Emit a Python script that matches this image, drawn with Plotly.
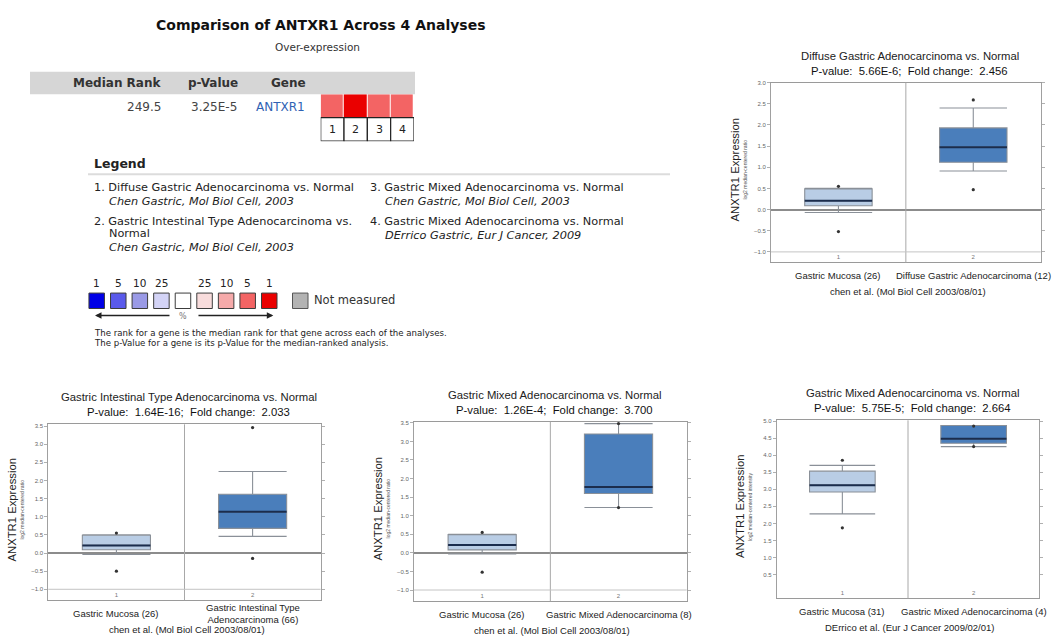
import plotly.graph_objects as go

W, H = 1053, 636


def px(x):
    return x / W


def py(y):
    return 1 - y / H


UI_FONT = "DejaVu Sans"
PLOT_FONT = "Liberation Sans"
GAP = "\u00a0\u00a0"

# ---------------- summary table ----------------
report_title = "Comparison of ANTXR1 Across 4 Analyses"
report_subtitle = "Over-expression"
table_headers = ["Median Rank", "p-Value", "Gene"]
median_rank = "249.5"
table_p_value = "3.25E-5"
gene_name = "ANTXR1"
analysis_ids = [1, 2, 3, 4]
# percentile bin of the gene in each analysis (index into scale_colors)
analysis_bins = [7, 8, 7, 7]

# ---------------- legend ----------------
legend_titles = [
    ["1. Diffuse Gastric Adenocarcinoma vs. Normal"],
    ["2. Gastric Intestinal Type Adenocarcinoma vs.", "Normal"],
    ["3. Gastric Mixed Adenocarcinoma vs. Normal"],
    ["4. Gastric Mixed Adenocarcinoma vs. Normal"],
]
legend_refs = [
    "Chen Gastric, Mol Biol Cell, 2003",
    "Chen Gastric, Mol Biol Cell, 2003",
    "Chen Gastric, Mol Biol Cell, 2003",
    "DErrico Gastric, Eur J Cancer, 2009",
]
scale_labels = ["1", "5", "10", "25", "", "25", "10", "5", "1"]
scale_colors = ["#0000e6", "#5a5aeb", "#9a9ae6", "#d3d3f6", "#ffffff",
                "#f8dcdc", "#f5aaaa", "#f36464", "#ea0000"]
not_measured_color = "#b3b3b3"
footnotes = [
    "The rank for a gene is the median rank for that gene across each of the analyses.",
    "The p-Value for a gene is its p-Value for the median-ranked analysis.",
]

# ---------------- box plot panels ----------------
chart_titles = [
    "Diffuse Gastric Adenocarcinoma vs. Normal",
    "Gastric Intestinal Type Adenocarcinoma vs. Normal",
    "Gastric Mixed Adenocarcinoma vs. Normal",
    "Gastric Mixed Adenocarcinoma vs. Normal",
]
chart_pvalues = ["5.66E-6", "1.64E-16", "1.26E-4", "5.75E-5"]
chart_folds = ["2.456", "2.033", "3.700", "2.664"]
normal_labels = ["Gastric Mucosa (26)", "Gastric Mucosa (26)",
                 "Gastric Mucosa (26)", "Gastric Mucosa (31)"]
tumor_labels = ["Diffuse Gastric Adenocarcinoma (12)",
                "Gastric Intestinal Type<br>Adenocarcinoma (66)",
                "Gastric Mixed Adenocarcinoma (8)",
                "Gastric Mixed Adenocarcinoma (4)"]
citations = ["chen et al. (Mol Biol Cell 2003/08/01)",
             "chen et al. (Mol Biol Cell 2003/08/01)",
             "chen et al. (Mol Biol Cell 2003/08/01)",
             "DErrico et al. (Eur J Cancer 2009/02/01)"]
y_title = "ANXTR1 Expression"
y_units = ["log2 median-centered ratio", "log2 median-centered ratio",
           "log2 median-centered ratio", "log2 median-centered intensity"]
y_ranges = [[-1.25, 3.0], [-1.3, 3.55], [-1.3, 3.53], [-0.2, 5.02]]

normal_q1 = [0.09, 0.09, 0.08, 2.92]
normal_median = [0.21, 0.21, 0.21, 3.12]
normal_q3 = [0.49, 0.49, 0.49, 3.53]
normal_low = [-0.07, -0.04, -0.03, 2.28]
normal_high = [0.50, 0.50, 0.50, 3.70]
normal_min = [-0.52, -0.50, -0.52, 1.87]
normal_max = [0.55, 0.55, 0.55, 3.85]

tumor_q1 = [1.12, 0.68, 1.60, 4.35]
tumor_median = [1.47, 1.14, 1.77, 4.48]
tumor_q3 = [1.93, 1.62, 3.20, 4.87]
tumor_low = [0.91, 0.46, 1.22, 4.25]
tumor_high = [2.40, 2.25, 3.48, 4.87]
tumor_min = [0.47, -0.15, 1.22, 4.25]
tumor_max = [2.59, 3.46, 3.48, 4.85]

# panel plot areas in page pixels: left, right, top, bottom
panel_px = [
    (771.0, 1040.7, 80.0, 260.7),
    (48.3, 320.7, 423.3, 600.0),
    (414.0, 686.7, 420.7, 601.0),
    (776.7, 1039.3, 419.3, 598.3),
]

BOX_W = 0.5
NORMAL_FILL = "#b9cde5"
TUMOR_FILL = "#4a7ebb"
BOX_EDGE = "#8a9098"
MEDIAN_COLOR = "#1b2d4d"

fig = go.Figure()
layout_axes = {}
shapes = []
annotations = []


def note(text, x, y, size, color="#222", family=UI_FONT, xanchor="center",
         yanchor="middle", xref="paper", yref="paper", textangle=0):
    annotations.append(dict(
        text=text, x=x, y=y, xref=xref, yref=yref, xanchor=xanchor,
        yanchor=yanchor, showarrow=False, textangle=textangle,
        font=dict(family=family, size=size, color=color)))


# ---------------- box plot panels ----------------
for i in range(4):
    n = i + 1
    s = "" if n == 1 else str(n)
    xr, yr = "x" + s, "y" + s
    l, r, t, b = panel_px[i]

    groups = [
        (1, normal_q1[i], normal_median[i], normal_q3[i], normal_low[i],
         normal_high[i], normal_min[i], normal_max[i], NORMAL_FILL),
        (2, tumor_q1[i], tumor_median[i], tumor_q3[i], tumor_low[i],
         tumor_high[i], tumor_min[i], tumor_max[i], TUMOR_FILL),
    ]
    for cx, q1, med, q3, lo, hi, mn, mx, fill in groups:
        fig.add_trace(go.Box(
            x=[cx], q1=[q1], median=[med], q3=[q3], lowerfence=[lo],
            upperfence=[hi], width=BOX_W, orientation="v", fillcolor=fill,
            line=dict(color=BOX_EDGE, width=1.1), whiskerwidth=1,
            boxpoints=False, hoverinfo="skip", xaxis=xr, yaxis=yr))
        fig.add_trace(go.Scatter(
            x=[cx - BOX_W / 2, cx + BOX_W / 2], y=[med, med], mode="lines",
            line=dict(color=MEDIAN_COLOR, width=2), hoverinfo="skip",
            xaxis=xr, yaxis=yr))
        fig.add_trace(go.Scatter(
            x=[cx, cx], y=[mn, mx], mode="markers",
            marker=dict(size=3.2, color="#333333"), hoverinfo="skip",
            xaxis=xr, yaxis=yr))

    layout_axes["xaxis" + s] = dict(
        domain=[px(l), px(r)], range=[0.5, 2.5], anchor=yr,
        tickvals=[1, 2], ticktext=["1", "2"], ticks="",
        ticklabelposition="inside",
        tickfont=dict(family=PLOT_FONT, size=6, color="#777"),
        showline=True, linecolor="#9a9a9a", linewidth=1, mirror=True,
        showgrid=False, zeroline=False, fixedrange=True)
    layout_axes["yaxis" + s] = dict(
        domain=[py(b), py(t)], range=y_ranges[i], anchor=xr,
        dtick=0.5, tick0=0, tickformat=".1f", ticks="outside", ticklen=3,
        tickcolor="#b0b0b0",
        tickfont=dict(family=PLOT_FONT, size=6, color="#666"),
        showline=True, linecolor="#a0a0a0", linewidth=1, mirror="ticks",
        showgrid=False, zeroline=True, zerolinecolor="#8c8c8c",
        zerolinewidth=1.5, fixedrange=True)

    # group divider
    shapes.append(dict(type="line", xref=xr, yref=yr + " domain",
                       x0=1.5, x1=1.5, y0=0, y1=1,
                       line=dict(color="#a8a8a8", width=1)))
    # reference line at -1
    if y_ranges[i][0] < -1.0:
        shapes.append(dict(type="line", xref=xr + " domain", yref=yr,
                           x0=0, x1=1, y0=-1.0, y1=-1.0,
                           line=dict(color="#c4c4c4", width=1)))

    mid_x = (l + r) / 2
    note(chart_titles[i], px(mid_x + 4), py(t - 27), 11.3, "#222", PLOT_FONT)
    note("P-value:" + GAP + chart_pvalues[i] + ";" + GAP + "Fold change:"
         + GAP + chart_folds[i], px(mid_x + 4), py(t - 12), 11.3, "#111",
         PLOT_FONT)
    note(normal_labels[i], 1, py(b + 13), 9.5, "#222", PLOT_FONT, xref=xr)
    note(tumor_labels[i], 2, py(b + 13), 9.5, "#222", PLOT_FONT, xref=xr)
    note(citations[i], px(mid_x + 2), py(b + 29), 9.5, "#222", PLOT_FONT)
    note(y_title, px(l - 36), py((t + b) / 2 - 3), 11.3, "#222", PLOT_FONT,
         textangle=-90)
    note(y_units[i], px(l - 26), py((t + b) / 2 - 3), 5, "#555", PLOT_FONT,
         textangle=-90)

# ---------------- summary table ----------------
note("<b>" + report_title + "</b>", px(320.5), py(22), 14, "#111")
note(report_subtitle, px(317.5), py(44.3), 10.5, "#333")

shapes.append(dict(type="rect", xref="paper", yref="paper",
                   x0=px(30), x1=px(415), y0=py(91.7), y1=py(69),
                   fillcolor="#d6d6d6", line=dict(width=0), layer="below"))
note("<b>" + table_headers[0] + "</b>", px(163), py(80.5), 12, "#333",
     xanchor="right")
note("<b>" + table_headers[1] + "</b>", px(213), py(80.5), 12, "#333")
note("<b>" + table_headers[2] + "</b>", px(288), py(80.5), 12, "#333")
note(median_rank, px(163), py(104), 12, "#444", xanchor="right")
note(table_p_value, px(238.5), py(104), 12, "#444", xanchor="right")
note(gene_name, px(254), py(104), 12, "#2f62b3", xanchor="left")

fig.add_trace(go.Heatmap(
    z=[analysis_bins], x=list(range(len(analysis_ids))), y=[0],
    zmin=0, zmax=len(scale_colors) - 1,
    colorscale=[[k / (len(scale_colors) - 1), c]
                for k, c in enumerate(scale_colors)],
    showscale=False, xgap=1, hoverinfo="skip", xaxis="x5", yaxis="y5"))
layout_axes["xaxis5"] = dict(domain=[px(320.7), px(414)],
                             range=[-0.5, len(analysis_ids) - 0.5],
                             anchor="y5", visible=False, fixedrange=True)
layout_axes["yaxis5"] = dict(domain=[py(138.8), py(91.7)],
                             range=[-1.5, 0.5], anchor="x5", visible=False,
                             fixedrange=True)
for k, aid in enumerate(analysis_ids):
    shapes.append(dict(type="rect", xref="x5", yref="y5",
                       x0=k - 0.5, x1=k + 0.5, y0=-1.5, y1=-0.5,
                       fillcolor="white", line=dict(color="#222", width=1.2)))
    note(str(aid), k, -1.0, 11, "#222", xref="x5", yref="y5")

# ---------------- legend ----------------
note("<b>Legend</b>", px(91.5), py(161.7), 12.5, "#222", xanchor="left")
shapes.append(dict(type="line", xref="paper", yref="paper",
                   x0=px(88), x1=px(670), y0=py(172), y1=py(172),
                   line=dict(color="#dcdcdc", width=2)))

col_x = [92.0, 368.3]
indent = 14.6
row_y = [185.7, 220.0]
for k in range(len(legend_titles)):
    cx = col_x[k // 2]
    y = row_y[k % 2]
    for j, line in enumerate(legend_titles[k]):
        note(line, px(cx + (indent if j else 0)), py(y), 11.3, "#222",
             xanchor="left")
        y += 11.7
    note("<i>" + legend_refs[k] + "</i>", px(cx + indent), py(y + 2.3),
         11.3, "#222", xanchor="left")

sw_x0, sw_pitch, sw_size, sw_y = 96.7, 21.57, 15.5, 299.2
for k, (lab, col) in enumerate(zip(scale_labels, scale_colors)):
    cx = sw_x0 + k * sw_pitch
    shapes.append(dict(type="rect", xref="paper", yref="paper",
                       x0=px(cx - sw_size / 2), x1=px(cx + sw_size / 2),
                       y0=py(sw_y + sw_size / 2), y1=py(sw_y - sw_size / 2),
                       fillcolor=col, line=dict(color="#3c3c3c", width=1)))
    if lab:
        note(lab, px(cx), py(281.7), 10.5, "#222")
nm_x = sw_x0 + (len(scale_colors) - 1) * sw_pitch + 31
shapes.append(dict(type="rect", xref="paper", yref="paper",
                   x0=px(nm_x - sw_size / 2), x1=px(nm_x + sw_size / 2),
                   y0=py(sw_y + sw_size / 2), y1=py(sw_y - sw_size / 2),
                   fillcolor=not_measured_color,
                   line=dict(color="#555", width=1)))
note("Not measured", px(nm_x + 11.5), py(298.5), 11.5, "#333", xanchor="left")

arrow_y = 314
mid_arrow = sw_x0 + 4 * sw_pitch
for head, tail in [(95.0, mid_arrow - 12), (273.3, mid_arrow + 14)]:
    annotations.append(dict(
        x=px(head), y=py(arrow_y), xref="paper", yref="paper", text="",
        showarrow=True, ax=tail - head, ay=0, arrowhead=2, arrowsize=1,
        arrowwidth=1.3, arrowcolor="#222"))
note("%", px(mid_arrow + 0.5), py(arrow_y + 1), 8, "#777")

note(footnotes[0], px(91.5), py(331.5), 8.6, "#222", xanchor="left")
note(footnotes[1], px(91.5), py(341.5), 8.6, "#222", xanchor="left")

fig.update_layout(
    width=W, height=H, margin=dict(l=0, r=0, t=0, b=0),
    paper_bgcolor="white", plot_bgcolor="white", showlegend=False,
    shapes=shapes, annotations=annotations, **layout_axes)

fig.write_html("out.html")
